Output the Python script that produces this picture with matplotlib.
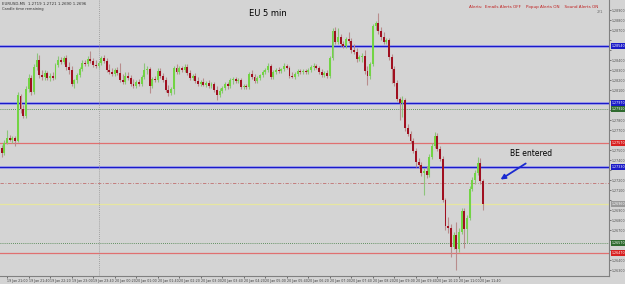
import matplotlib
matplotlib.use("Agg")
import matplotlib.pyplot as plt
import matplotlib.transforms as mtransforms
import numpy as np

# EURUSD 5 min candles
opens = [1.2752, 1.2747, 1.2757, 1.2762, 1.2760, 1.2762, 1.2759, 1.2804, 1.2791, 1.2784,
         1.2811, 1.2822, 1.2808, 1.2833, 1.2840, 1.2825, 1.2823, 1.2827, 1.2822, 1.2824,
         1.2822, 1.2835, 1.2840, 1.2838, 1.2842, 1.2833, 1.2830, 1.2816, 1.2820, 1.2825,
         1.2831, 1.2837, 1.2836, 1.2841, 1.2839, 1.2835, 1.2834, 1.2837, 1.2842, 1.2839,
         1.2830, 1.2828, 1.2826, 1.2830, 1.2827, 1.2820, 1.2818, 1.2824, 1.2822, 1.2816,
         1.2814, 1.2818, 1.2816, 1.2823, 1.2830, 1.2831, 1.2814, 1.2821, 1.2820, 1.2829,
         1.2824, 1.2820, 1.2810, 1.2807, 1.2811, 1.2832, 1.2828, 1.2832, 1.2830, 1.2833,
         1.2827, 1.2822, 1.2824, 1.2819, 1.2816, 1.2818, 1.2815, 1.2817, 1.2814, 1.2816,
         1.2810, 1.2805, 1.2809, 1.2812, 1.2816, 1.2814, 1.2820, 1.2821, 1.2819, 1.2820,
         1.2813, 1.2814, 1.2813, 1.2826, 1.2823, 1.2819, 1.2822, 1.2825, 1.2828, 1.2830,
         1.2834, 1.2823, 1.2828, 1.2830, 1.2829, 1.2831, 1.2834, 1.2832, 1.2824, 1.2823,
         1.2826, 1.2829, 1.2828, 1.2829, 1.2828, 1.2830, 1.2833, 1.2834, 1.2832, 1.2828,
         1.2825, 1.2827, 1.2824, 1.2842, 1.2869, 1.2858, 1.2863, 1.2856, 1.2854, 1.2861,
         1.2859, 1.2850, 1.2848, 1.2841, 1.2843, 1.2844, 1.2829, 1.2824, 1.2836, 1.2874,
         1.2877, 1.2869, 1.2863, 1.2858, 1.2860, 1.2843, 1.2831, 1.2817, 1.2801, 1.2797,
         1.2800, 1.2772, 1.2766, 1.2759, 1.2749, 1.2738, 1.2735, 1.2727, 1.2729, 1.2725,
         1.2743, 1.2754, 1.2764, 1.2751, 1.2741, 1.2700, 1.2674, 1.2672, 1.2653, 1.2665,
         1.2651, 1.2668, 1.2689, 1.2671, 1.2682, 1.2711, 1.2720, 1.2727, 1.2737, 1.2719]
highs = [1.2755, 1.2760, 1.2770, 1.2765, 1.2764, 1.2764, 1.2808, 1.2806, 1.2795, 1.2814,
         1.2826, 1.2825, 1.2836, 1.2847, 1.2845, 1.2830, 1.2830, 1.2829, 1.2827, 1.2828,
         1.2837, 1.2844, 1.2843, 1.2844, 1.2845, 1.2838, 1.2834, 1.2821, 1.2827, 1.2833,
         1.2840, 1.2840, 1.2844, 1.2849, 1.2842, 1.2840, 1.2839, 1.2844, 1.2845, 1.2842,
         1.2836, 1.2832, 1.2832, 1.2833, 1.2837, 1.2826, 1.2828, 1.2828, 1.2825, 1.2821,
         1.2820, 1.2821, 1.2825, 1.2837, 1.2834, 1.2833, 1.2823, 1.2824, 1.2832, 1.2832,
         1.2827, 1.2823, 1.2815, 1.2813, 1.2834, 1.2836, 1.2834, 1.2834, 1.2836, 1.2836,
         1.2830, 1.2826, 1.2827, 1.2823, 1.2820, 1.2822, 1.2819, 1.2820, 1.2818, 1.2818,
         1.2814, 1.2812, 1.2814, 1.2818, 1.2818, 1.2822, 1.2823, 1.2823, 1.2822, 1.2822,
         1.2816, 1.2816, 1.2828, 1.2830, 1.2826, 1.2824, 1.2826, 1.2830, 1.2832, 1.2837,
         1.2836, 1.2830, 1.2832, 1.2833, 1.2832, 1.2837, 1.2836, 1.2834, 1.2828, 1.2828,
         1.2831, 1.2831, 1.2831, 1.2831, 1.2832, 1.2835, 1.2837, 1.2836, 1.2834, 1.2831,
         1.2829, 1.2830, 1.2844, 1.2872, 1.2873, 1.2872, 1.2866, 1.2859, 1.2863, 1.2868,
         1.2862, 1.2856, 1.2852, 1.2845, 1.2847, 1.2850, 1.2834, 1.2838, 1.2876, 1.2879,
         1.2887, 1.2873, 1.2868, 1.2862, 1.2862, 1.2846, 1.2834, 1.2820, 1.2803, 1.2804,
         1.2802, 1.2776, 1.2769, 1.2762, 1.2752, 1.2742, 1.2738, 1.2732, 1.2734, 1.2746,
         1.2757, 1.2768, 1.2767, 1.2754, 1.2744, 1.2702, 1.2683, 1.2676, 1.2668, 1.2678,
         1.2672, 1.2692, 1.2692, 1.2685, 1.2714, 1.2723, 1.2730, 1.2743, 1.2742, 1.2721]
lows = [1.2743, 1.2745, 1.2756, 1.2759, 1.2757, 1.2754, 1.2758, 1.2787, 1.2782, 1.2782,
        1.2808, 1.2805, 1.2806, 1.2830, 1.2822, 1.2820, 1.2820, 1.2820, 1.2819, 1.2820,
        1.2821, 1.2833, 1.2836, 1.2836, 1.2830, 1.2826, 1.2814, 1.2812, 1.2817, 1.2823,
        1.2829, 1.2834, 1.2834, 1.2837, 1.2833, 1.2832, 1.2832, 1.2835, 1.2837, 1.2828,
        1.2826, 1.2824, 1.2824, 1.2825, 1.2818, 1.2816, 1.2816, 1.2820, 1.2814, 1.2812,
        1.2812, 1.2814, 1.2814, 1.2821, 1.2826, 1.2807, 1.2812, 1.2818, 1.2818, 1.2822,
        1.2818, 1.2808, 1.2804, 1.2805, 1.2806, 1.2826, 1.2826, 1.2828, 1.2828, 1.2825,
        1.2820, 1.2820, 1.2817, 1.2814, 1.2814, 1.2814, 1.2813, 1.2812, 1.2812, 1.2808,
        1.2800, 1.2803, 1.2807, 1.2810, 1.2811, 1.2812, 1.2816, 1.2817, 1.2817, 1.2811,
        1.2811, 1.2811, 1.2811, 1.2821, 1.2817, 1.2817, 1.2820, 1.2823, 1.2826, 1.2828,
        1.2821, 1.2821, 1.2826, 1.2827, 1.2827, 1.2829, 1.2831, 1.2822, 1.2822, 1.2821,
        1.2824, 1.2826, 1.2826, 1.2826, 1.2826, 1.2828, 1.2830, 1.2831, 1.2826, 1.2823,
        1.2823, 1.2822, 1.2822, 1.2840, 1.2856, 1.2856, 1.2854, 1.2852, 1.2852, 1.2857,
        1.2847, 1.2846, 1.2838, 1.2839, 1.2838, 1.2826, 1.2815, 1.2821, 1.2834, 1.2870,
        1.2866, 1.2860, 1.2856, 1.2856, 1.2840, 1.2817, 1.2814, 1.2799, 1.2780, 1.2783,
        1.2769, 1.2764, 1.2757, 1.2747, 1.2733, 1.2732, 1.2724, 1.2705, 1.2722, 1.2723,
        1.2741, 1.2752, 1.2749, 1.2739, 1.2698, 1.2670, 1.2667, 1.2643, 1.2651, 1.2630,
        1.2648, 1.2666, 1.2652, 1.2657, 1.2680, 1.2709, 1.2716, 1.2725, 1.2716, 1.2690]
closes = [1.2747, 1.2757, 1.2762, 1.2760, 1.2762, 1.2759, 1.2805, 1.2791, 1.2784, 1.2811,
          1.2822, 1.2808, 1.2833, 1.2840, 1.2825, 1.2823, 1.2827, 1.2822, 1.2824, 1.2822,
          1.2835, 1.2840, 1.2838, 1.2842, 1.2833, 1.2830, 1.2816, 1.2820, 1.2825, 1.2831,
          1.2837, 1.2836, 1.2841, 1.2839, 1.2835, 1.2834, 1.2837, 1.2842, 1.2839, 1.2830,
          1.2828, 1.2826, 1.2830, 1.2827, 1.2820, 1.2818, 1.2824, 1.2822, 1.2816, 1.2814,
          1.2818, 1.2816, 1.2823, 1.2830, 1.2831, 1.2814, 1.2821, 1.2820, 1.2829, 1.2824,
          1.2820, 1.2810, 1.2807, 1.2811, 1.2832, 1.2828, 1.2832, 1.2830, 1.2833, 1.2827,
          1.2822, 1.2824, 1.2819, 1.2816, 1.2818, 1.2815, 1.2817, 1.2814, 1.2816, 1.2810,
          1.2805, 1.2809, 1.2812, 1.2816, 1.2814, 1.2820, 1.2821, 1.2819, 1.2820, 1.2813,
          1.2814, 1.2813, 1.2826, 1.2823, 1.2819, 1.2822, 1.2825, 1.2828, 1.2830, 1.2834,
          1.2823, 1.2828, 1.2830, 1.2829, 1.2831, 1.2834, 1.2832, 1.2824, 1.2823, 1.2826,
          1.2829, 1.2828, 1.2829, 1.2828, 1.2830, 1.2833, 1.2834, 1.2832, 1.2828, 1.2825,
          1.2827, 1.2824, 1.2842, 1.2869, 1.2858, 1.2863, 1.2856, 1.2854, 1.2861, 1.2859,
          1.2850, 1.2848, 1.2841, 1.2843, 1.2844, 1.2829, 1.2824, 1.2836, 1.2874, 1.2877,
          1.2869, 1.2863, 1.2858, 1.2860, 1.2843, 1.2831, 1.2817, 1.2801, 1.2797, 1.2800,
          1.2772, 1.2766, 1.2759, 1.2749, 1.2738, 1.2735, 1.2727, 1.2729, 1.2725, 1.2743,
          1.2754, 1.2764, 1.2751, 1.2741, 1.2700, 1.2674, 1.2672, 1.2653, 1.2665, 1.2651,
          1.2668, 1.2689, 1.2671, 1.2682, 1.2711, 1.2720, 1.2727, 1.2737, 1.2719, 1.2696]

# horizontal objects drawn on the chart
blue_levels = [1.2854, 1.2797, 1.2733]
red_levels = [1.2757, 1.2647]
green_dotted = [1.2791, 1.2657]
red_dashdot = 1.2717
separator_bar = 36

time_labels = ['19 Jan 21:00', '19 Jan 21:40', '19 Jan 22:20', '19 Jan 23:00', '19 Jan 23:40',
               '20 Jan 00:20', '20 Jan 01:00', '20 Jan 01:40', '20 Jan 02:20', '20 Jan 03:00',
               '20 Jan 03:40', '20 Jan 04:20', '20 Jan 05:00', '20 Jan 05:40', '20 Jan 06:20',
               '20 Jan 07:00', '20 Jan 07:40', '20 Jan 08:20', '20 Jan 09:00', '20 Jan 09:40',
               '20 Jan 10:20', '20 Jan 11:00', '20 Jan 11:40']

bg = '#d4d4d4'
fig = plt.figure(figsize=(6.25, 2.84), dpi=100, facecolor=bg)
ax = fig.add_axes([0, 8 / 284, 609 / 625, 276 / 284], facecolor=bg)

o = np.array(opens); h = np.array(highs); l = np.array(lows); c = np.array(closes)
idx = np.arange(len(o))
up = c >= o

# horizontal lines first, candles on top
for lv in blue_levels:
    ax.axhline(lv, color='#a0a0f0', lw=1.9, zorder=1)
    ax.axhline(lv, color='#1a1ac8', lw=0.9, zorder=1)
for lv in red_levels:
    ax.axhline(lv, color='#e07070', lw=0.9, zorder=1)
for lv in green_dotted:
    ax.axhline(lv, color='#3c7a3c', lw=0.6, ls=(0, (1, 1.5)), zorder=1)
ax.axhline(red_dashdot, color='#c07070', lw=0.6, ls=(0, (4, 2, 1, 2)), zorder=1)
ax.axhline(closes[-1], color='#e6e6a0', lw=0.9, zorder=1)
ax.axvline(separator_bar, color='#909090', lw=0.6, ls=(0, (1, 1.5)), zorder=1)

wick_cols = np.where(up, '#8cc47a', '#b88c8c')
body_cols = np.where(up, '#72d444', '#a01020')
ax.vlines(idx, l, h, colors=wick_cols, lw=0.8, zorder=2)
height = np.abs(c - o)
height = np.where(height < 0.00008, 0.00008, height)
ax.bar(idx, height, bottom=np.minimum(o, c), width=0.72, color=body_cols, lw=0, zorder=3)

ax.set_xlim(-0.63, 225.8)
ax.set_ylim(1.2624, 1.2900)

for s in ['left', 'top']:
    ax.spines[s].set_visible(False)
for s in ['right', 'bottom']:
    ax.spines[s].set_color('#808080')
    ax.spines[s].set_linewidth(0.8)

# price scale; labels hidden where a level box sits
box_levels = blue_levels + red_levels + green_dotted + [closes[-1]]
ax.yaxis.tick_right()
yt = np.arange(1.2630, 1.2895, 0.0010)
ax.set_yticks(yt)
ax.set_yticklabels(['' if min(abs(v - b) for b in box_levels) < 0.0006 else '%.5f' % v
                    for v in yt])
ax.tick_params(axis='y', labelsize=2.3, colors='#505050', length=1.2, width=0.5, pad=0.6)
ax.set_xticks(np.arange(2, 2 + 8 * len(time_labels), 8))
ax.set_xticklabels(time_labels)
ax.tick_params(axis='x', labelsize=2.3, colors='#404040', length=1.5, width=0.5, pad=0.5)
for t in ax.get_xticklabels():
    t.set_ha('left')

# price boxes on the right axis
tr = mtransforms.blended_transform_factory(ax.transAxes, ax.transData)
boxes = [(v, '#1a1ac8') for v in blue_levels] + [(v, '#d82020') for v in red_levels] \
    + [(v, '#2e6a2e') for v in green_dotted] + [(closes[-1], '#9a9a9a')]
for v, col in boxes:
    ax.text(1.004, v, '%.5f' % v, transform=tr, fontsize=2.3, color='white', va='center',
            ha='left', clip_on=False, zorder=6,
            bbox=dict(boxstyle='square,pad=0.25', fc=col, ec='none'))

ax.text(0.44, 0.95, 'EU 5 min', transform=ax.transAxes, fontsize=6, ha='center', va='center')
ax.annotate('', xy=(184.6, 1.2719), xytext=(195.7, 1.2738),
            arrowprops=dict(arrowstyle='-|>', color='#1a2ad0', lw=1.3, mutation_scale=7))
ax.text(197, 1.2747, 'BE entered', fontsize=5.5, ha='center', va='center')

fig.text(2 / 625, 1 - 2 / 284, 'EURUSD,M5  1.2719 1.2721 1.2690 1.2696', fontsize=2.8,
         color='#303030', va='top')
fig.text(2 / 625, 1 - 7 / 284, 'Candle time remaining', fontsize=2.6, color='#303030', va='top')
fig.text(598 / 625, 1 - 7 / 284,
         'Alerts:  Emails Alerts OFF    Popup Alerts ON    Sound Alerts ON',
         fontsize=3.0, color='#c02020', ha='right', va='center')
fig.text(603 / 625, 1 - 12 / 284, '2/1', fontsize=3.0, color='#707070', ha='right', va='center')

fig.savefig('out.png', dpi=100, facecolor=bg)
